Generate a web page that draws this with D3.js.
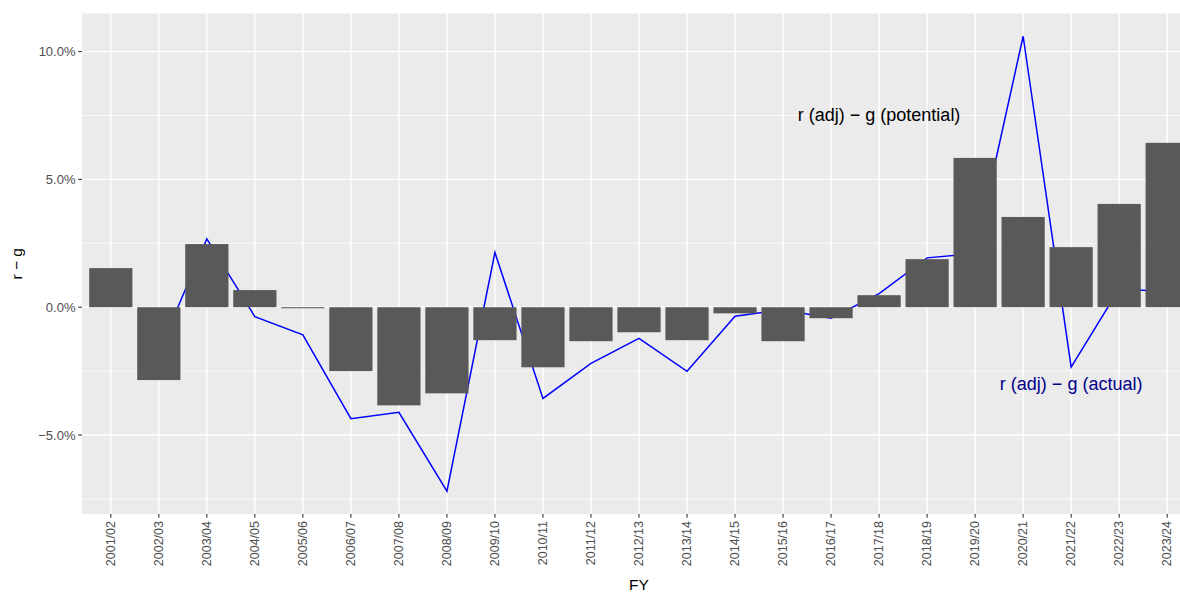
<!DOCTYPE html>
<html>
<head>
<meta charset="utf-8">
<script src="https://cdn.jsdelivr.net/npm/d3@7"></script>
<style>
  html, body { margin: 0; padding: 0; background: #ffffff; }
  svg { display: block; font-family: "Liberation Sans", Arial, Helvetica, sans-serif; }
</style>
</head>
<body>
<svg id="chart" width="1180" height="594"></svg>
<script>
// ---- data ----
const categories = ["2001/02","2002/03","2003/04","2004/05","2005/06","2006/07","2007/08","2008/09",
  "2009/10","2010/11","2011/12","2012/13","2013/14","2014/15","2015/16","2016/17","2017/18",
  "2018/19","2019/20","2020/21","2021/22","2022/23","2023/24"];
// r (adj) - g (potential), percent — bars
const potentialValues = [1.53, -2.85, 2.47, 0.67, -0.04, -2.50, -3.84, -3.37, -1.29, -2.35, -1.33,
  -0.98, -1.29, -0.24, -1.33, -0.43, 0.47, 1.88, 5.84, 3.53, 2.35, 4.04, 6.43];
// r (adj) - g (actual), percent — line
const actualValues = [null, -1.75, 2.67, -0.37, -1.08, -4.36, -4.11, -7.20, 2.14, -3.57, -2.20,
  -1.22, -2.51, -0.35, -0.10, -0.43, 0.53, 1.93, 2.10, 10.60, -2.34, 0.72, 0.60];
const yTicks = [-5, 0, 5, 10];
const yMinorTicks = [-7.5, -2.5, 2.5, 7.5];
const labels = [
  { text: "r (adj) \u2212 g (potential)", cat: "2017/18", value: 7.5, color: "#000000" },
  { text: "r (adj) \u2212 g (actual)", cat: "2021/22", value: -3.0, color: "#00008B" }
];
const xTitle = "FY";
const yTitle = "r \u2212 g";

// ---- layout ----
const panel = { left: 82, right: 1196, top: 13.5, bottom: 514 };
const svg = d3.select("#chart");

const allVals = potentialValues.concat(actualValues.filter(v => v !== null));
const [vmin, vmax] = d3.extent(allVals);
const pad = (vmax - vmin) * 0.05;
const y = d3.scaleLinear().domain([vmin - pad, vmax + pad]).range([panel.bottom, panel.top]);
const x = d3.scaleBand().domain(categories).range([panel.left, panel.right])
  .paddingInner(0.1).paddingOuter(0.15).align(0.5);
const cx = c => x(c) + x.bandwidth() / 2;

// panel background
svg.append("rect").attr("x", panel.left).attr("y", panel.top)
  .attr("width", panel.right - panel.left).attr("height", panel.bottom - panel.top)
  .attr("fill", "#EBEBEB");

const clip = svg.append("defs").append("clipPath").attr("id", "pclip")
  .append("rect").attr("x", panel.left).attr("y", panel.top)
  .attr("width", panel.right - panel.left).attr("height", panel.bottom - panel.top);

const g = svg.append("g").attr("clip-path", "url(#pclip)");

// minor grid
g.selectAll(".ymin").data(yMinorTicks).join("line")
  .attr("x1", panel.left).attr("x2", panel.right)
  .attr("y1", d => y(d)).attr("y2", d => y(d))
  .attr("stroke", "#FFFFFF").attr("stroke-width", 0.7);
// major grid
g.selectAll(".ymaj").data(yTicks).join("line")
  .attr("x1", panel.left).attr("x2", panel.right)
  .attr("y1", d => y(d)).attr("y2", d => y(d))
  .attr("stroke", "#FFFFFF").attr("stroke-width", 1.4);
g.selectAll(".xmaj").data(categories).join("line")
  .attr("x1", d => cx(d)).attr("x2", d => cx(d))
  .attr("y1", panel.top).attr("y2", panel.bottom)
  .attr("stroke", "#FFFFFF").attr("stroke-width", 1.4);

// line (under bars)
const lineData = categories.map((c, i) => ({ c, v: actualValues[i] }));
g.append("path").datum(lineData)
  .attr("d", d3.line().defined(d => d.v !== null).x(d => cx(d.c)).y(d => y(d.v)))
  .attr("fill", "none").attr("stroke", "#0000FF").attr("stroke-width", 1.5)
  .attr("stroke-linejoin", "miter");

// bars
g.selectAll(".bar").data(categories.map((c, i) => ({ c, v: potentialValues[i] }))).join("rect")
  .attr("x", d => x(d.c)).attr("width", x.bandwidth())
  .attr("y", d => y(Math.max(0, d.v)))
  .attr("height", d => Math.abs(y(d.v) - y(0)))
  .attr("fill", "#595959");

// annotations
g.selectAll(".ann").data(labels).join("text")
  .attr("x", d => cx(d.cat)).attr("y", d => y(d.value))
  .attr("text-anchor", "middle").attr("dominant-baseline", "central")
  .attr("font-size", 18).attr("fill", d => d.color)
  .text(d => d.text);

// y axis ticks + labels
const fmt = v => (v < 0 ? "\u2212" : "") + Math.abs(v).toFixed(1) + "%";
svg.selectAll(".ytick").data(yTicks).join("line")
  .attr("x1", panel.left - 3.7).attr("x2", panel.left)
  .attr("y1", d => y(d)).attr("y2", d => y(d))
  .attr("stroke", "#333333").attr("stroke-width", 1.1);
svg.selectAll(".ylab").data(yTicks).join("text")
  .attr("x", panel.left - 6.5).attr("y", d => y(d))
  .attr("text-anchor", "end").attr("dominant-baseline", "central")
  .attr("font-size", 13).attr("fill", "#4D4D4D")
  .text(d => fmt(d));

// x axis ticks + labels
svg.selectAll(".xtick").data(categories).join("line")
  .attr("x1", d => cx(d)).attr("x2", d => cx(d))
  .attr("y1", panel.bottom).attr("y2", panel.bottom + 3.7)
  .attr("stroke", "#333333").attr("stroke-width", 1.1);
svg.selectAll(".xlab").data(categories).join("text")
  .attr("transform", d => `translate(${cx(d)},${panel.bottom + 7}) rotate(-90)`)
  .attr("text-anchor", "end").attr("dominant-baseline", "central")
  .attr("font-size", 12.5).attr("fill", "#4D4D4D")
  .text(d => d);

// axis titles
svg.append("text").attr("x", (panel.left + panel.right) / 2).attr("y", 590)
  .attr("text-anchor", "middle").attr("font-size", 15.5).attr("fill", "#000000").text(xTitle);
svg.append("text")
  .attr("transform", `translate(22,${(panel.top + panel.bottom) / 2}) rotate(-90)`)
  .attr("text-anchor", "middle").attr("font-size", 15.5).attr("fill", "#000000").text(yTitle);
</script>
</body>
</html>
